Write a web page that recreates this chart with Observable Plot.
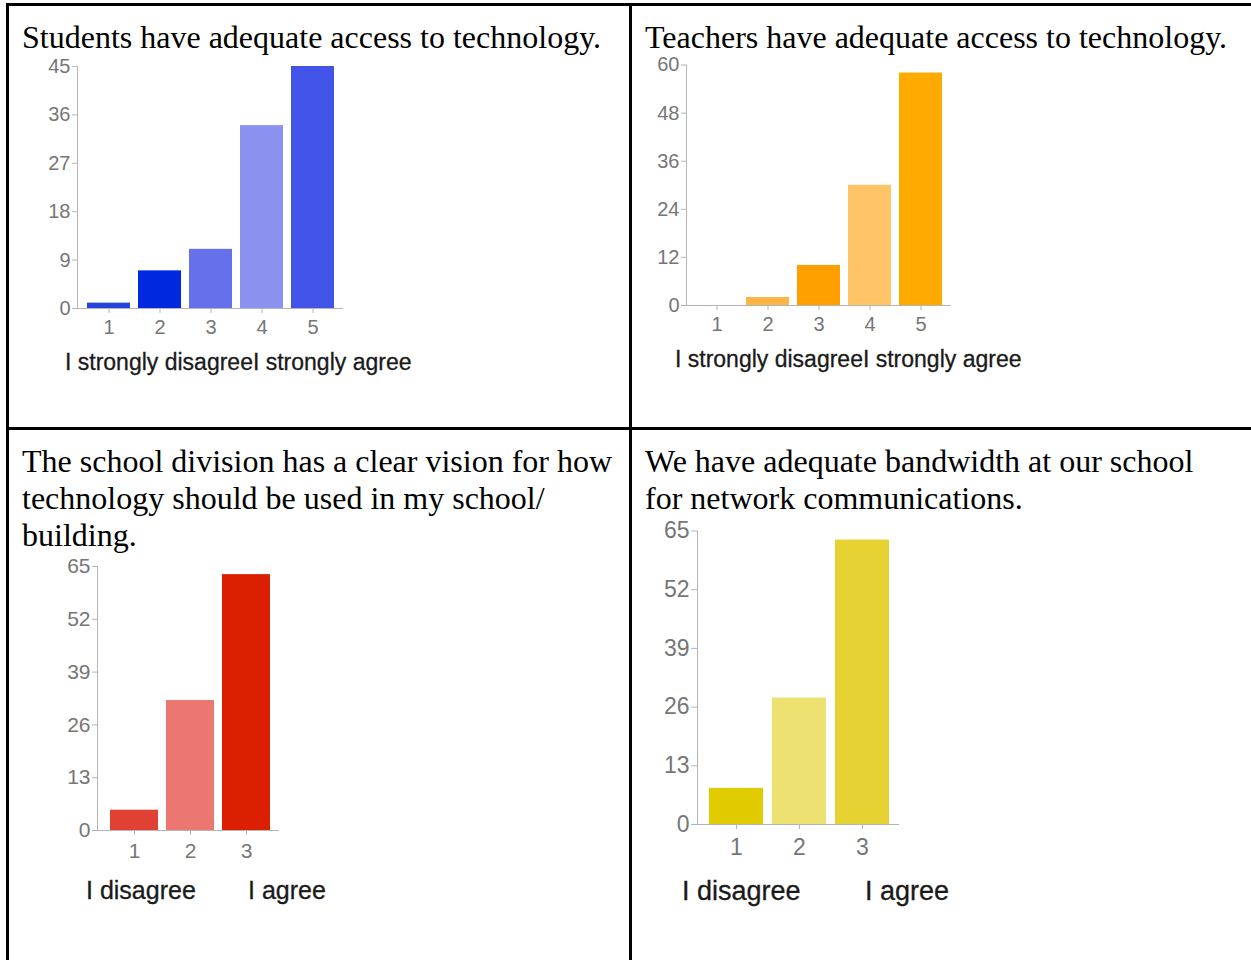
<!DOCTYPE html>
<html><head><meta charset="utf-8">
<script src="https://cdn.jsdelivr.net/npm/d3@7"></script>
<script src="https://cdn.jsdelivr.net/npm/@observablehq/plot@0.6"></script>
<style>
html,body{margin:0;padding:0;background:#fff;}
#page{position:relative;width:1251px;height:960px;overflow:hidden;background:#fff;}
.line{position:absolute;background:#000;}
.title{position:absolute;font-family:"Liberation Serif","Times New Roman",serif;font-size:32px;line-height:37px;color:#000;white-space:nowrap;}
.cap{position:absolute;font-family:"Liberation Sans",Arial,sans-serif;line-height:1;color:#1a1a1a;white-space:nowrap;-webkit-text-stroke:0.3px #1a1a1a;}
.chart{position:absolute;}
.chart svg{max-width:none;}
</style></head><body><div id="page"></div>
<script>
// ---- data ----
const studentsTitle = "Students have adequate access to technology.";
const studentsCategories = ["1","2","3","4","5"];
const studentsCounts = [1, 7, 11, 34, 45];
const studentsColors = ["#2443dc","#0029df","#6670ea","#8b91ef","#4254e8"];
const studentsTicks = [0, 9, 18, 27, 36, 45];
const studentsLabels = ["I strongly disagreeI strongly agree"];

const teachersTitle = "Teachers have adequate access to technology.";
const teachersCategories = ["1","2","3","4","5"];
const teachersCounts = [0, 2, 10, 30, 58];
const teachersColors = ["#ffb446","#ffb446","#ff9f00","#ffc467","#ffaa00"];
const teachersTicks = [0, 12, 24, 36, 48, 60];
const teachersLabels = ["I strongly disagreeI strongly agree"];

const visionTitle = ["The school division has a clear vision for how", "technology should be used in my school/", "building."];
const visionCategories = ["1","2","3"];
const visionCounts = [5, 32, 63];
const visionColors = ["#e04134","#eb7770","#da2000"];
const visionTicks = [0, 13, 26, 39, 52, 65];
const visionLabels = ["I disagree", "I agree"];

const bandwidthTitle = ["We have adequate bandwidth at our school", "for network communications."];
const bandwidthCategories = ["1","2","3"];
const bandwidthCounts = [8, 28, 63];
const bandwidthColors = ["#e0cb00","#ede171","#e6d333"];
const bandwidthTicks = [0, 13, 26, 39, 52, 65];
const bandwidthLabels = ["I disagree", "I agree"];

// ---- layout ----
const page = document.getElementById("page");
const axisColor = "#b4b4b4";
const labelColor = "#767676";

function addLine(l, t, w, h) {
  const d = document.createElement("div");
  d.className = "line";
  Object.assign(d.style, {left: l + "px", top: t + "px", width: w + "px", height: h + "px"});
  page.appendChild(d);
}
addLine(6, 3, 1245, 3);
addLine(6, 3, 3, 957);
addLine(629, 3, 3, 957);
addLine(6, 427, 1245, 3);

function addTitle(lines, left, top) {
  const d = document.createElement("div");
  d.className = "title";
  d.style.left = left + "px";
  d.style.top = top + "px";
  d.innerHTML = [].concat(lines).join("<br>");
  page.appendChild(d);
}
function addCaption(text, left, top, size) {
  const d = document.createElement("div");
  d.className = "cap";
  d.style.left = left + "px";
  d.style.top = top + "px";
  d.style.fontSize = size + "px";
  d.textContent = text;
  page.appendChild(d);
}

function addChart(cats, vals, colors, ticks, L) {
  const data = cats.map((c, i) => ({cat: c, value: vals[i], color: colors[i]}));
  const marginLeft = L.axisX - L.sx;
  const marginTop = L.topY - L.sy;
  const marginRight = 12;
  const marginBottom = 44;
  const width = Math.round(L.r1 - L.sx + marginRight);
  const height = Math.round(L.baseY - L.sy + marginBottom);
  const svg = Plot.plot({
    width, height, marginLeft, marginTop, marginRight, marginBottom,
    insetLeft: L.r0 - L.axisX,
    style: {background: "transparent", fontFamily: "'Liberation Sans', Arial, sans-serif", overflow: "visible"},
    x: {domain: cats, padding: L.pad, axis: null},
    y: {domain: [0, ticks[ticks.length - 1]], axis: null},
    color: {type: "identity"},
    marks: [
      Plot.barY(data, {x: "cat", y: "value", fill: "color"}),
      Plot.frame({anchor: "left", stroke: axisColor}),
      Plot.ruleY([0], {stroke: axisColor}),
      Plot.axisY({ticks, tickSize: L.ySize, tickPadding: L.yPad, fontSize: L.font, fill: labelColor, stroke: axisColor, label: null, tickFormat: d => String(d)}),
      Plot.axisX({tickSize: L.xSize, tickPadding: L.xPad, fontSize: L.font, fill: labelColor, stroke: axisColor, label: null})
    ]
  });
  const d = document.createElement("div");
  d.className = "chart";
  d.style.left = L.sx + "px";
  d.style.top = L.sy + "px";
  d.style.width = width + "px";
  d.appendChild(svg);
  page.appendChild(d);
}

addTitle(studentsTitle, 22, 19);
addTitle(teachersTitle, 645, 19);
addTitle(visionTitle, 22, 443);
addTitle(bandwidthTitle, 645, 443);

addChart(studentsCategories, studentsCounts, studentsColors, studentsTicks,
  {sx: 0, sy: 40, axisX: 77, topY: 66, baseY: 307.5, r0: 79, r1: 343, pad: 0.15, font: 20, ySize: 5, yPad: 2, xSize: 5, xPad: 6.5});
addChart(teachersCategories, teachersCounts, teachersColors, teachersTicks,
  {sx: 620, sy: 40, axisX: 686, topY: 64.5, baseY: 305, r0: 687, r1: 951, pad: 0.15, font: 20, ySize: 5, yPad: 2, xSize: 5, xPad: 6});
addChart(visionCategories, visionCounts, visionColors, visionTicks,
  {sx: 0, sy: 540, axisX: 97, topY: 566, baseY: 830, r0: 101, r1: 279, pad: 0.15, font: 21, ySize: 5, yPad: 2, xSize: 5, xPad: 8});
addChart(bandwidthCategories, bandwidthCounts, bandwidthColors, bandwidthTicks,
  {sx: 620, sy: 505, axisX: 697, topY: 530.5, baseY: 824, r0: 700, r1: 899, pad: 0.14, font: 23, ySize: 6, yPad: 2, xSize: 5, xPad: 9.5});

addCaption(studentsLabels[0], 65, 351, 23);
addCaption(teachersLabels[0], 675, 348, 23);
addCaption(visionLabels[0], 86, 878, 25);
addCaption(visionLabels[1], 248, 878, 25);
addCaption(bandwidthLabels[0], 682, 878, 27);
addCaption(bandwidthLabels[1], 865, 878, 27);
</script>
</body></html>
